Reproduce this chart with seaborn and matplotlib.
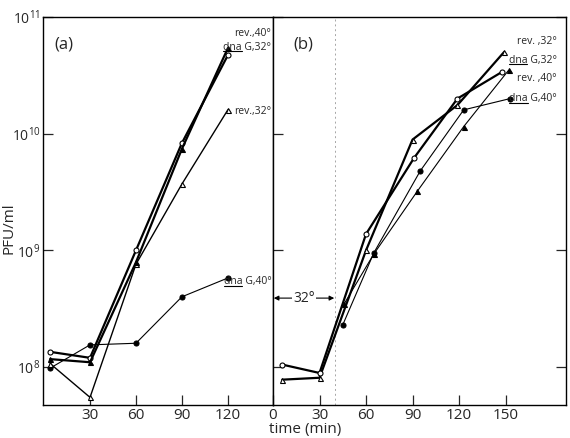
import numpy as np
import pandas as pd
import seaborn as sns
import matplotlib
matplotlib.use("Agg")
import matplotlib.pyplot as plt
from matplotlib.lines import Line2D

# ---- data (PFU/ml) ----
# panel (a)
t_a = [4, 30, 60, 90, 120]
a_dnaG32 = [1.35e8, 1.2e8, 1.0e9, 8.3e9, 4.7e10]
a_rev40 = [1.17e8, 1.1e8, 7.9e8, 7.4e9, 5.4e10]
a_rev32 = [1.07e8, 5.5e7, 7.6e8, 3.7e9, 1.6e10]
a_dnaG40 = [9.8e7, 1.55e8, 1.6e8, 4.0e8, 5.8e8]

# panel (b)
t_b_rev32 = [6, 30, 60, 90, 119, 149]
b_rev32 = [7.8e7, 8.1e7, 1.0e9, 8.9e9, 1.76e10, 5.0e10]
t_b_dnaG32 = [6, 30, 60, 91, 119, 148]
b_dnaG32 = [1.05e8, 8.9e7, 1.38e9, 6.2e9, 2.0e10, 3.4e10]
t_b_rev40 = [46, 65, 93, 123, 152]
b_rev40 = [3.5e8, 9.3e8, 3.2e9, 1.15e10, 3.5e10]
t_b_dnaG40 = [45, 65, 95, 123, 153]
b_dnaG40 = [2.3e8, 9.5e8, 4.8e9, 1.6e10, 2.0e10]

ytick_vals = [1e8, 1e9, 1e10, 1e11]
ytick_labels = ["10$^{8}$", "10$^{9}$", "10$^{10}$", "10$^{11}$"]

sns.set_style("ticks")
plt.rcParams["font.family"] = ["Open Sans", "DejaVu Sans"]
plt.rcParams["mathtext.fontset"] = "custom"
plt.rcParams["mathtext.rm"] = "Open Sans"
plt.rcParams["mathtext.it"] = "Open Sans"
plt.rcParams["mathtext.bf"] = "Open Sans"

fig = plt.figure(figsize=(5.7, 4.38), dpi=100)
ax_a = fig.add_axes([43 / 570, 1 - 405 / 438, 230 / 570, 388 / 438])
ax_b = fig.add_axes([273 / 570, 1 - 405 / 438, 293 / 570, 388 / 438])

thick = 1.6
thin = 0.8
ms = 3.6


def draw(ax, x, y, marker, filled, lw):
    sns.lineplot(x=x, y=y, ax=ax, color="black", linewidth=lw, marker=marker,
                 markersize=ms, markerfacecolor="black" if filled else "white",
                 markeredgecolor="black", markeredgewidth=0.8, sort=False)


# panel a
draw(ax_a, t_a, a_dnaG40, "o", True, thin)
draw(ax_a, t_a, a_rev32, "^", False, 1.0)
draw(ax_a, t_a, a_dnaG32, "o", False, thick)
draw(ax_a, t_a, a_rev40, "^", True, thick)

# panel b
draw(ax_b, t_b_dnaG40, b_dnaG40, "o", True, thin)
draw(ax_b, t_b_rev40, b_rev40, "^", True, thin)
draw(ax_b, t_b_rev32, b_rev32, "^", False, thick)
draw(ax_b, t_b_dnaG32, b_dnaG32, "o", False, thick)

for ax in (ax_a, ax_b):
    ax.set_yscale("log")
    ax.set_ylim(10 ** 7.675, 10 ** 11.0)
    ax.set_yticks(ytick_vals)
    ax.minorticks_off()
    ax.tick_params(direction="in", length=7, width=0.9, labelsize=11, pad=2)
    for s in ax.spines.values():
        s.set_linewidth(1.0)
        s.set_color("black")
    ax.set_xlabel("")
    ax.set_ylabel("")

ax_a.set_xlim(-0.7, 149.5)
ax_a.set_xticks([30, 60, 90, 120])
ax_a.set_yticklabels(ytick_labels)
ax_a.tick_params(axis="y", labelsize=10, pad=2)

ax_b.set_xlim(0, 189)
ax_b.set_xticks([0, 30, 60, 90, 120, 150])
ax_b.set_yticklabels([])
ax_b.tick_params(axis="y", left=True, right=True)

# panel letters
ax_a.text(0.05, 0.93, "(a)", transform=ax_a.transAxes, fontsize=12, va="center")
ax_b.text(0.07, 0.93, "(b)", transform=ax_b.transAxes, fontsize=12, va="center")

fs = 7.5
underlined = []


def label(ax, x, y, s, under=False, ha="right"):
    t = ax.text(x, y, s, fontsize=fs, ha=ha, va="center")
    if under:
        underlined.append(t)


# series labels, panel a
label(ax_a, 148.5, 10 ** 10.86, "rev.,40°")
label(ax_a, 148.5, 10 ** 10.74, "dna G,32°", True)
label(ax_a, 148.5, 10 ** 10.19, "rev.,32°")
label(ax_a, 148.5, 10 ** 8.73, "dna G,40°", True)

# series labels, panel b
label(ax_b, 183, 10 ** 10.79, "rev. ,32°")
label(ax_b, 183, 10 ** 10.63, "dna G,32°", True)
label(ax_b, 183, 10 ** 10.47, "rev. ,40°")
label(ax_b, 183, 10 ** 10.30, "dna G,40°", True)

# 32 degree period
ax_b.axvline(40, color="0.65", linestyle=(0, (2, 3)), linewidth=0.7, zorder=0)
ax_b.annotate("", xy=(0.5, 3.9e8), xytext=(39.5, 3.9e8),
              arrowprops=dict(arrowstyle="<|-|>", color="black", lw=0.8,
                              mutation_scale=7, shrinkA=0, shrinkB=0))
ax_b.text(20, 3.9e8, "32°", fontsize=10, ha="center", va="center",
          bbox=dict(facecolor="white", edgecolor="none", pad=1))

fig.text(9 / 570, 1 - 228 / 438, "PFU/ml", rotation=90, fontsize=11,
         ha="center", va="center")
fig.text(305 / 570, 1 - 430 / 438, "time (min)", fontsize=11,
         ha="center", va="center")

# underline the "dna" part of the gene labels
fig.canvas.draw()
r = fig.canvas.get_renderer()
W, H = fig.bbox.width, fig.bbox.height
for t in underlined:
    bb = t.get_window_extent(r)
    tmp = fig.text(0, 0, "dna", fontsize=fs)
    w = tmp.get_window_extent(r).width
    tmp.remove()
    y = bb.y0 + 1.5
    fig.add_artist(Line2D([bb.x0 / W, (bb.x0 + w) / W], [y / H, y / H],
                          transform=fig.transFigure, color="black", lw=0.8))

fig.savefig("out.png", dpi=100)
